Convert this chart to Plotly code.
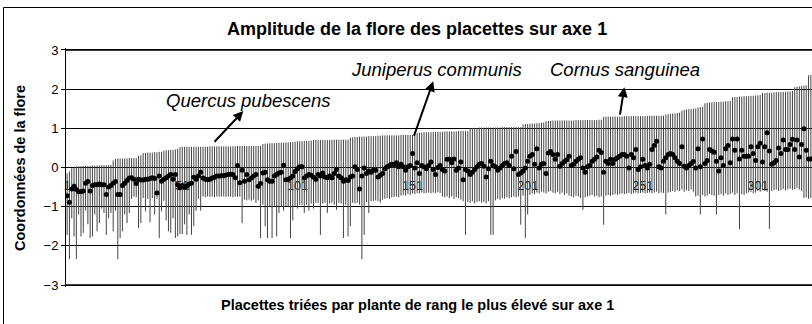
import plotly.graph_objects as go

# Placettes numbered in the order they are sorted (by the highest-ranked plant on axis 1)
placettes = list(range(1, 325))

# Highest flora coordinate on axis 1 for each placette
flore_max = [
    -0.15, -0.10, -0.02, 0.02, 0.03, 0.03, 0.03, 0.04, 0.04, 0.04,
    0.04, 0.05, 0.05, 0.05, 0.05, 0.06, 0.06, 0.06, 0.06, 0.07,
    0.18, 0.22, 0.23, 0.23, 0.23, 0.23, 0.23, 0.24, 0.24, 0.24,
    0.24, 0.30, 0.31, 0.37, 0.37, 0.38, 0.38, 0.38, 0.39, 0.39,
    0.40, 0.40, 0.43, 0.44, 0.44, 0.45, 0.45, 0.46, 0.48, 0.52,
    0.53, 0.53, 0.53, 0.53, 0.53, 0.53, 0.53, 0.53, 0.53, 0.53,
    0.53, 0.53, 0.54, 0.54, 0.54, 0.54, 0.54, 0.54, 0.54, 0.54,
    0.54, 0.54, 0.54, 0.54, 0.55, 0.55, 0.55, 0.55, 0.55, 0.55,
    0.55, 0.55, 0.55, 0.55, 0.55, 0.60, 0.61, 0.61, 0.62, 0.62,
    0.62, 0.63, 0.63, 0.63, 0.63, 0.64, 0.64, 0.65, 0.65, 0.66,
    0.67, 0.67, 0.67, 0.68, 0.68, 0.68, 0.69, 0.70, 0.70, 0.70,
    0.70, 0.70, 0.70, 0.70, 0.70, 0.71, 0.71, 0.71, 0.71, 0.71,
    0.71, 0.71, 0.71, 0.76, 0.77, 0.78, 0.78, 0.79, 0.79, 0.79,
    0.79, 0.80, 0.80, 0.80, 0.80, 0.81, 0.81, 0.82, 0.82, 0.82,
    0.82, 0.82, 0.82, 0.82, 0.82, 0.83, 0.83, 0.83, 0.83, 0.83,
    0.83, 0.83, 0.88, 0.89, 0.89, 0.90, 0.90, 0.90, 0.90, 0.91,
    0.91, 0.91, 0.91, 0.91, 0.92, 0.92, 0.92, 0.92, 0.92, 0.92,
    0.93, 0.93, 0.93, 0.93, 0.93, 1.01, 1.01, 1.01, 1.01, 1.02,
    1.02, 1.02, 1.02, 1.02, 1.02, 1.02, 1.02, 1.02, 1.02, 1.03,
    1.03, 1.03, 1.03, 1.03, 1.03, 1.03, 1.03, 1.03, 1.10, 1.11,
    1.11, 1.12, 1.12, 1.12, 1.13, 1.13, 1.14, 1.15, 1.18, 1.19,
    1.19, 1.20, 1.20, 1.20, 1.20, 1.20, 1.20, 1.20, 1.20, 1.20,
    1.20, 1.21, 1.21, 1.21, 1.21, 1.21, 1.21, 1.21, 1.21, 1.21,
    1.21, 1.22, 1.22, 1.29, 1.30, 1.30, 1.30, 1.30, 1.30, 1.30,
    1.30, 1.30, 1.31, 1.31, 1.31, 1.31, 1.31, 1.31, 1.31, 1.31,
    1.31, 1.31, 1.32, 1.32, 1.32, 1.32, 1.32, 1.32, 1.32, 1.32,
    1.35, 1.36, 1.37, 1.38, 1.38, 1.39, 1.40, 1.45, 1.47, 1.48,
    1.49, 1.49, 1.50, 1.51, 1.53, 1.54, 1.55, 1.64, 1.65, 1.66,
    1.66, 1.67, 1.67, 1.67, 1.68, 1.68, 1.69, 1.69, 1.70, 1.79,
    1.80, 1.80, 1.81, 1.81, 1.82, 1.82, 1.82, 1.83, 1.83, 1.84,
    1.84, 1.85, 1.90, 1.90, 1.91, 1.91, 1.91, 1.92, 1.92, 1.92,
    1.93, 1.93, 1.93, 1.94, 1.94, 1.95, 2.05, 2.06, 2.07, 2.08,
    2.09, 2.10, 2.35, 2.36,
]

# Lowest flora coordinate on axis 1 for each placette
flore_min = [
    -1.72, -2.34, -1.30, -1.76, -2.34, -1.20, -1.76, -1.67, -1.10, -1.45,
    -1.80, -1.76, -1.20, -1.63, -1.42, -1.05, -1.16, -1.72, -1.30, -1.16,
    -1.63, -1.10, -2.34, -1.80, -1.63, -1.20, -1.42, -1.16, -0.80, -0.74,
    -0.76, -1.55, -1.42, -0.78, -1.12, -0.80, -1.40, -0.78, -1.20, -0.80,
    -1.80, -1.12, -0.85, -1.35, -1.63, -1.67, -1.30, -1.80, -1.76, -1.70,
    -1.70, -1.45, -1.72, -1.20, -1.72, -1.50, -1.10, -0.80, -1.10, -0.74,
    -0.76, -0.74, -0.75, -0.74, -0.76, -0.74, -0.75, -0.74, -0.74, -0.75,
    -0.74, -0.74, -0.76, -0.74, -0.75, -0.74, -1.42, -0.82, -0.84, -0.82,
    -0.85, -0.82, -0.90, -0.84, -1.80, -0.95, -1.50, -1.80, -1.00, -1.80,
    -0.98, -1.76, -1.16, -1.00, -1.10, -0.98, -1.00, -1.80, -1.35, -0.98,
    -1.05, -0.95, -0.95, -1.16, -0.95, -1.10, -0.92, -1.05, -0.90,
    -0.90, -1.72, -0.92, -0.90, -1.16, -0.92, -0.90, -0.95, -1.08, -0.90,
    -0.92, -1.80, -0.95, -1.76, -1.50, -0.90, -0.92, -0.90, -0.95, -2.34,
    -1.72, -0.88, -1.16, -0.86, -0.85, -0.84, -0.86, -0.90, -0.82, -0.80,
    -0.78, -0.80, -0.76, -0.75, -0.74, -0.76, -0.72, -0.70, -0.72, -0.68,
    -0.70, -0.66, -0.68, -0.65, -0.66, -0.64, -0.66, -0.65, -0.64, -0.66,
    -0.64, -0.65, -0.63, -0.65,
    -0.74, -0.76, -0.74, -0.78, -0.74, -0.80, -0.76, -0.78, -0.82, -0.86,
    -1.72, -0.88, -0.90, -0.86, -0.92, -0.88, -0.86, -0.90, -0.88, -0.92,
    -0.86, -1.72, -1.72, -0.84, -0.80, -0.82, -0.78, -0.80, -0.76, -0.78,
    -0.76, -0.74, -0.76, -0.74, -1.46, -0.72, -1.80, -1.20, -0.70, -0.66,
    -0.68, -0.64, -0.66, -0.62, -0.64, -0.66, -0.62, -0.60, -0.64, -0.66,
    -0.62, -0.68, -0.64, -0.70, -0.66,
    -0.72, -0.74, -0.76, -0.72, -0.74, -0.78, -1.08, -0.76, -0.74, -0.72,
    -0.70, -0.74, -0.72, -0.76, -0.74, -1.46, -0.72, -0.70, -0.72, -0.70,
    -0.68, -0.70, -0.68, -0.66, -0.68, -0.66, -0.65, -0.68, -0.66, -0.64,
    -0.66, -0.65, -0.64, -0.66, -0.65, -0.64, -0.66, -0.64, -0.62, -0.66,
    -0.64, -0.65, -1.20, -0.64, -0.62, -0.60, -0.62, -0.58, -0.60, -0.56,
    -0.62, -0.58, -0.60, -0.56, -0.62,
    -0.74, -0.72, -1.20, -0.70, -0.74, -0.72, -0.68, -0.70, -0.72, -1.20,
    -0.70, -0.68, -0.72, -0.66, -0.70, -0.68, -0.64, -0.70, -0.66, -1.57,
    -0.68, -0.70, -0.66, -0.64, -0.62, -0.66, -0.64, -0.60, -0.62, -0.58,
    -0.60, -0.62, -1.57, -0.60, -0.58, -0.56, -0.60, -0.58, -0.55, -0.58,
    -0.56, -0.54, -0.57, -0.55, -0.52, -0.56, -0.60, -0.78, -0.76, -0.80,
    -0.78,
]

# Mean flora coordinate on axis 1 for each placette
flore_moy = [
    -0.72, -0.89, -0.55, -0.48, -0.56, -0.62, -0.62, -0.60, -0.40, -0.36,
    -0.60, -0.46, -0.44, -0.44, -0.42, -0.44, -0.44, -0.69, -0.50, -0.46,
    -0.40, -0.36, -0.69, -0.69, -0.46, -0.40, -0.33, -0.27, -0.26, -0.30,
    -0.41, -0.30, -0.32, -0.32, -0.30, -0.30, -0.28, -0.26, -0.28, -0.65,
    -0.22, -0.35, -0.30, -0.26, -0.22, -0.18, -0.30, -0.18, -0.44, -0.52,
    -0.46, -0.50, -0.48, -0.42, -0.40,
    -0.25, -0.30, -0.22, -0.12, -0.27, -0.30, -0.31, -0.30, -0.27, -0.25,
    -0.22, -0.22, -0.21, -0.21, -0.19, -0.18, -0.17, -0.18, -0.26, 0.05,
    -0.39, -0.07, -0.35, -0.18, -0.31, -0.27, -0.22, -0.18, -0.48, -0.41,
    -0.14, -0.12, -0.31, -0.35, -0.35, -0.22, -0.18, -0.14, -0.12, 0.06,
    -0.31, -0.30, -0.27, -0.22, -0.10, -0.03, 0.02, 0.02, -0.27, -0.22,
    -0.18, -0.20, -0.25, -0.30,
    -0.18, -0.22, -0.14, -0.24, -0.26, -0.22, -0.26, -0.15, -0.05, -0.22,
    -0.26, -0.35, -0.31, -0.33, -0.24, -0.22, 0.02, -0.05, -0.55, -0.22,
    -0.01, -0.15, -0.09, -0.12, -0.07, -0.07, -0.24, -0.20, -0.15, -0.03,
    0.02, 0.05, 0.08, 0.07, 0.12, 0.02, 0.08, 0.02, -0.07, 0.02,
    0.05, 0.36, -0.01, 0.12, -0.15, 0.05, 0.02, -0.03, 0.05, 0.14,
    -0.05, -0.18, 0.00, 0.05,
    -0.05, -0.09, 0.21, 0.21, 0.12, 0.22, -0.07, -0.01, 0.14, -0.31,
    -0.05, -0.09, -0.18, -0.12, -0.05, 0.02, 0.08, 0.10, 0.03, -0.24,
    -0.03, 0.16, 0.05, 0.02, -0.07, -0.01, 0.05, 0.10, 0.12, 0.05,
    0.29, -0.03, 0.41, -0.18, -0.14, -0.09, -0.01, 0.16, 0.29, 0.33,
    0.08, 0.48, -0.01, 0.08, 0.10, -0.15, 0.37, 0.41, 0.33, 0.21,
    0.33, 0.03, 0.10, 0.15, 0.20,
    0.29, 0.05, 0.08, 0.16, 0.21, 0.25, -0.01, -0.12, 0.02, 0.05,
    0.16, 0.21, 0.27, 0.44, 0.38, -0.12, 0.16, 0.10, 0.21, 0.10,
    0.21, 0.25, 0.29, 0.33, 0.33, 0.29, -0.01, 0.33, 0.25, 0.46,
    -0.05, 0.02, 0.21, 0.05, -0.01, 0.08, 0.46, 0.56, 0.67, 0.02,
    -0.01, 0.16, 0.25, 0.33, 0.36, 0.33, 0.25, 0.16, 0.10, 0.53,
    0.03, -0.01, 0.05, 0.10, 0.15,
    -0.01, 0.48, 0.02, 0.73, 0.10, 0.18, 0.46, 0.42, 0.39, 0.16,
    -0.09, 0.25, 0.05, 0.48, 0.56, 0.12, 0.73, 0.44, 0.73, 0.22,
    0.44, 0.29, 0.29, 0.29, 0.53, 0.36, 0.18, 0.53, 0.62, 0.14,
    0.53, 0.89, 0.42, 0.08, 0.12, 0.18, 0.50, 0.36, 0.70, 0.46,
    0.46, 0.59, 0.72, 0.46, 0.70, 0.27, 0.59, 0.99, 0.44, 0.22,
    0.22,
]

assert len(flore_max) == len(flore_min) == len(flore_moy) == len(placettes)

x_tick_vals = [1, 51, 101, 151, 201, 251, 301]
x_tick_text = ["1", "51", "101", "151", "201", "251", "301"]
y_tick_vals = [-3, -2, -1, 0, 1, 2, 3]

# Species labels: (name, label position, arrow tail, arrow head) in data units
especes = ["Quercus pubescens", "Juniperus communis", "Cornus sanguinea"]
espece_label_x = [79.6, 161.4, 243.1]
espece_label_y = [1.72, 2.49, 2.49]
fleche_de_x = [64.4, 151.4, 241.0]
fleche_de_y = [0.62, 0.77, 1.31]
fleche_vers_x = [77.5, 160.0, 243.0]
fleche_vers_y = [1.44, 2.20, 2.05]

FONT = "Liberation Sans, Arial, sans-serif"
X_RANGE = [0.5, len(placettes) + 0.5]

# High-low segments, one vertical stroke per placette
seg_x, seg_y = [], []
for p, lo, hi in zip(placettes, flore_min, flore_max):
    seg_x += [p, p, None]
    seg_y += [lo, hi, None]

y_lo, y_hi = y_tick_vals[0], y_tick_vals[-1]

fig = go.Figure()
# Rules along the +3 and -3 levels, closing the plot area top and bottom
fig.add_trace(go.Scatter(
    x=[X_RANGE[0], X_RANGE[1], None, X_RANGE[0], X_RANGE[1]],
    y=[y_hi, y_hi, None, y_lo, y_lo],
    mode="lines", line=dict(color="black", width=1.2),
    hoverinfo="skip", showlegend=False, cliponaxis=False,
))
fig.add_trace(go.Scatter(
    x=seg_x, y=seg_y, mode="lines",
    line=dict(color="#444444", width=1),
    hoverinfo="skip", showlegend=False,
))
fig.add_trace(go.Scatter(
    x=placettes, y=flore_moy, mode="markers",
    marker=dict(color="black", size=5, line=dict(width=0)),
    showlegend=False,
))

# Plot area spans pixels x 66..812, y 48..287; the value axis is padded by
# 0.05 on each side so the +/-3 levels sit just inside the frame.
L, R, T, B = 66, 812, 48, 287
W, H = R - L, B - T
Y_PAD = 0.05


def px(xp):
    return (xp - L) / W


def py(yp):
    return (B - yp) / H


annotations = []
for name, lx, ly in zip(especes, espece_label_x, espece_label_y):
    annotations.append(dict(
        x=lx, y=ly, xref="x", yref="y", text="<i>" + name + "</i>",
        xanchor="center", yanchor="middle",
        showarrow=False, font=dict(family=FONT, size=18.5, color="black"),
    ))
for x0, y0, x1, y1 in zip(fleche_de_x, fleche_de_y, fleche_vers_x, fleche_vers_y):
    annotations.append(dict(
        x=x1, y=y1, ax=x0, ay=y0, xref="x", yref="y", axref="x", ayref="y",
        text="", showarrow=True, arrowhead=2, arrowsize=1, arrowwidth=2,
        arrowcolor="black", standoff=0, startstandoff=0,
    ))

annotations.append(dict(
    x=px(417), y=py(29), xref="paper", yref="paper",
    xanchor="center", yanchor="middle",
    text="<b>Amplitude de la flore des placettes sur axe 1</b>",
    showarrow=False, font=dict(family=FONT, size=18, color="black"),
))
annotations.append(dict(
    x=px(417), y=py(305), xref="paper", yref="paper",
    xanchor="center", yanchor="middle",
    text="<b>Placettes triées par plante de rang le plus élevé sur axe 1</b>",
    showarrow=False, font=dict(family=FONT, size=14.5, color="black"),
))
annotations.append(dict(
    x=px(20), y=py(168), xref="paper", yref="paper", textangle=-90,
    xanchor="center", yanchor="middle",
    text="<b>Coordonnées de la flore</b>",
    showarrow=False, font=dict(family=FONT, size=14.5, color="black"),
))

# Chart area frame, plus paper-level rules at the +3 / -3 rows
shapes = [dict(
    type="rect", xref="paper", yref="paper",
    x0=px(3.5), x1=px(830), y0=py(340), y1=py(7.5),
    line=dict(color="black", width=1), fillcolor="rgba(0,0,0,0)",
    layer="above",
)]
for row in (50, 285):
    shapes.append(dict(
        type="line", xref="paper", yref="paper",
        x0=0, x1=1, y0=py(row), y1=py(row),
        line=dict(color="black", width=1.2), layer="above",
    ))

fig.update_layout(
    width=812, height=324,
    margin=dict(l=L, r=812 - R, t=T, b=324 - B, pad=0),
    paper_bgcolor="white", plot_bgcolor="white",
    font=dict(family=FONT, color="black"),
    annotations=annotations,
    shapes=shapes,
    xaxis=dict(
        range=X_RANGE, anchor="free", position=0.5,
        tickmode="array", tickvals=x_tick_vals, ticktext=x_tick_text,
        showgrid=False, zeroline=False, showline=False, ticks="",
        tickfont=dict(family=FONT, size=12.5, color="black"),
        ticklabelstandoff=9, layer="below traces",
    ),
    yaxis=dict(
        range=[y_lo - Y_PAD, y_hi + Y_PAD],
        tickmode="array", tickvals=y_tick_vals,
        showgrid=True, gridcolor="black", gridwidth=1, zeroline=False,
        showline=True, linecolor="black", linewidth=1,
        ticks="outside", ticklen=4, tickcolor="black",
        tickfont=dict(family=FONT, size=13, color="black"),
    ),
)

fig.write_html("out.html")
